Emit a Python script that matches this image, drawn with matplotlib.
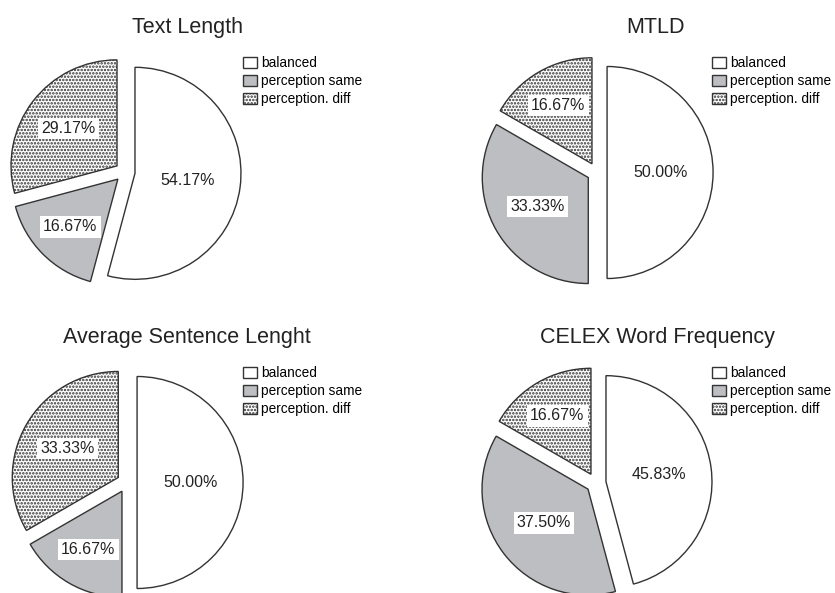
import numpy as np
import matplotlib
matplotlib.use("Agg")
import matplotlib.pyplot as plt

plt.rcParams['font.family'] = ['Liberation Sans', 'DejaVu Sans']
plt.rcParams['hatch.linewidth'] = 1.2
plt.rcParams['hatch.color'] = '#2a2a2a'

categories = ["balanced", "perception same", "perception. diff"]
titles = ["Text Length", "MTLD", "Average Sentence Lenght", "CELEX Word Frequency"]
text_length = [54.17, 16.67, 29.17]
mtld = [50.00, 33.33, 16.67]
avg_sentence = [50.00, 16.67, 33.33]
celex = [45.83, 37.50, 16.67]
series = [text_length, mtld, avg_sentence, celex]

W, H = 835, 593
fig = plt.figure(figsize=(W / 100, H / 100), dpi=100)

R = 106.0
LIM = 1.3
# pie centres (pixels, from top-left)
centres = [(125, 172), (597, 172.5), (127, 482.5), (596, 483)]
title_pos = [(187, 33), (656, 33), (187, 343), (657, 343)]
legend_pos = [(243, 56), (712, 56), (243, 366), (712, 366)]

fills = ['white', '#bdbec1', 'white']
hatches = [None, None, '.....']

for vals, title, (cx, cy), (tx, ty), (lx, ly) in zip(series, titles, centres, title_pos, legend_pos):
    S = 2 * LIM * R
    ax = fig.add_axes([(cx - S / 2) / W, (H - cy - S / 2) / H, S / W, S / H])
    total = sum(vals)
    wedges, texts, autotexts = ax.pie(
        vals, startangle=90, counterclock=False, explode=[0.095] * 3,
        colors=fills, autopct=lambda p, t=total: f'{p * t / 100:.2f}%', pctdistance=0.5,
        wedgeprops=dict(edgecolor='#333333', linewidth=1.0),
        textprops=dict(fontsize=11.5, color='#222222'))
    for w, h in zip(wedges, hatches):
        if h:
            w.set_hatch(h)
    for w, t in zip(wedges, autotexts):
        th1, th2 = np.radians(w.theta1), np.radians(w.theta2)
        half = (th2 - th1) / 2
        mid = (th1 + th2) / 2
        c = 2 * np.sin(half) / (3 * half)
        r = max(c, 0.5)
        x0, y0 = w.center
        t.set_position((x0 + r * np.cos(mid), y0 + r * np.sin(mid)))
        t.set_bbox(dict(facecolor='white', edgecolor='none', boxstyle='square,pad=0.2'))
    ax.set_xlim(-LIM, LIM)
    ax.set_ylim(-LIM, LIM)
    ax.set_aspect('equal')
    ax.axis('off')
    fig.text(tx / W, (H - ty) / H, title, ha='center', va='baseline', fontsize=15.5, color='#222222')
    fig.legend(wedges, categories, loc='upper left', bbox_to_anchor=(lx / W, (H - ly) / H),
               bbox_transform=fig.transFigure, frameon=False, fontsize=9.8,
               handlelength=1.0, handleheight=0.9, handletextpad=0.35,
               labelspacing=0.3, borderpad=0, borderaxespad=0)

fig.savefig("out.png", dpi=100)
